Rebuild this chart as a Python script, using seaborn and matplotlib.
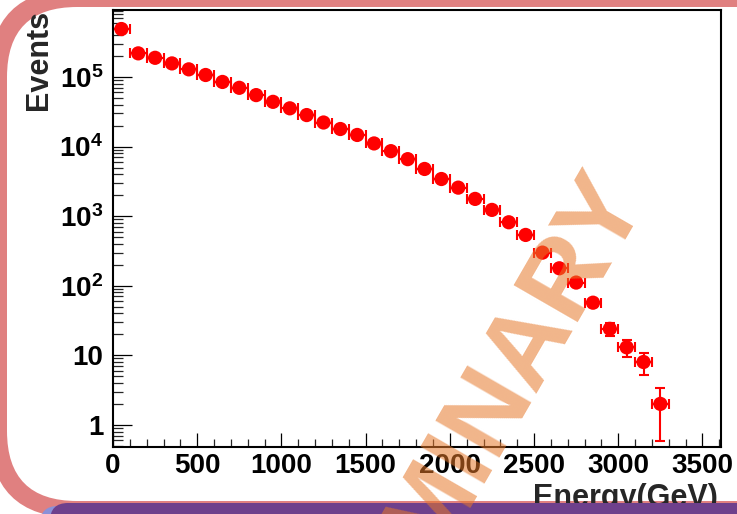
import numpy as np
import pandas as pd
import matplotlib
matplotlib.use("Agg")
import matplotlib.pyplot as plt
import seaborn as sns
from matplotlib.patches import FancyBboxPatch
from matplotlib.ticker import (FixedLocator, FixedFormatter, LogLocator,
                               MultipleLocator, NullFormatter)

# ---------------- data ----------------
energy_gev = [50, 150, 250, 350, 450, 550, 650, 750, 850, 950, 1050, 1150,
              1250, 1350, 1450, 1550, 1650, 1750, 1850, 1950, 2050, 2150,
              2250, 2350, 2450, 2550, 2650, 2750, 2850, 2950, 3050, 3150, 3250]
events = [490000, 219000, 189000, 157000, 129000, 107000, 85000, 70000,
          55000, 44000, 35500, 28400, 22200, 17900, 14700, 11100, 8600,
          6600, 4770, 3420, 2570, 1770, 1230, 817, 537, 299, 178, 111,
          57, 24, 13, 8, 2]
events_err = [700, 468, 435, 396, 359, 327, 292, 265, 235, 210, 188, 169,
              149, 134, 121, 105, 93, 81, 69, 58, 51, 42, 35, 29, 23, 17,
              13, 10.5, 7.5, 4.9, 3.6, 2.8, 1.41]
bin_half_width = 50

x_ticks = [0, 500, 1000, 1500, 2000, 2500, 3000, 3500]
x_tick_labels = ["0", "500", "1000", "1500", "2000", "2500", "3000", "3500"]
y_ticks = [1, 10, 100, 1000, 10000, 100000]
y_tick_labels = ["1", "10", r"$10^{2}$", r"$10^{3}$", r"$10^{4}$", r"$10^{5}$"]
x_label = "Energy(GeV)"
y_label = "Events"
watermark = "PRELIMINARY"

# ---------------- style ----------------
sns.set_theme(style="ticks")
plt.rcParams["font.family"] = ["Liberation Sans", "DejaVu Sans"]
plt.rcParams.update({
    "mathtext.fontset": "custom",
    "mathtext.rm": "Liberation Sans:bold",
    "mathtext.it": "Liberation Sans:bold",
    "mathtext.bf": "Liberation Sans:bold",
    "mathtext.default": "bf",
})

W, H = 737, 514
fig = plt.figure(figsize=(W / 100, H / 100), dpi=100)
fig.patch.set_facecolor("white")

# background slide frame (pixel coordinates, y downwards)
bg = fig.add_axes([0, 0, 1, 1], zorder=-1)
bg.set_xlim(0, W)
bg.set_ylim(H, 0)
bg.axis("off")
# outer pink rounded rectangle, then inner white rounded rectangle
bg.add_patch(FancyBboxPatch((-11, -11), 1000, 529,
                            boxstyle="round,pad=0,rounding_size=88",
                            fc="#E08080", ec="none"))
bg.add_patch(FancyBboxPatch((7, 7), 1000, 494,
                            boxstyle="round,pad=0,rounding_size=70",
                            fc="white", ec="none"))

# main plot
ax = fig.add_axes([113 / W, 1 - 447 / H, 608 / W, 437 / H], zorder=1)
ax.set_facecolor("white")
df = pd.DataFrame({"energy": energy_gev, "events": events, "err": events_err})

ax.errorbar(df["energy"], df["events"], xerr=bin_half_width, yerr=df["err"],
            fmt="none", ecolor="#FF0000", elinewidth=1.5, capsize=3.6,
            capthick=1.5, zorder=2)
sns.scatterplot(data=df, x="energy", y="events", ax=ax, color="#FF0000",
                s=105, edgecolor="none", linewidth=0, marker="o", zorder=3)

ax.set_yscale("log")
ax.set_xlim(0, 3610)
ax.set_ylim(0.48, 9.2e5)

ax.xaxis.set_major_locator(FixedLocator(x_ticks))
ax.xaxis.set_major_formatter(FixedFormatter(x_tick_labels))
ax.xaxis.set_minor_locator(MultipleLocator(100))
ax.yaxis.set_major_locator(FixedLocator(y_ticks))
ax.yaxis.set_major_formatter(FixedFormatter(y_tick_labels))
ax.yaxis.set_minor_locator(LogLocator(base=10, subs=np.arange(2, 10), numticks=20))
ax.yaxis.set_minor_formatter(NullFormatter())

ax.tick_params(axis="x", which="major", direction="in", length=10, width=0.9,
               labelsize=20, pad=4, top=False, colors="black")
ax.tick_params(axis="x", which="minor", direction="in", length=5.8, width=0.9,
               top=False)
ax.tick_params(axis="y", which="major", direction="in", length=13.7, width=0.9,
               labelsize=20, pad=7, right=False, colors="black")
ax.tick_params(axis="y", which="minor", direction="in", length=7.2, width=0.9,
               right=False)
for lab in ax.get_xticklabels() + ax.get_yticklabels():
    lab.set_fontweight("bold")

for sp in ax.spines.values():
    sp.set_visible(True)
    sp.set_linewidth(1.5)
    sp.set_color("black")

ax.set_xlabel(x_label, fontsize=22, fontweight="bold", loc="right")
ax.set_ylabel(y_label, fontsize=22, fontweight="bold", loc="top")
ax.xaxis.set_label_coords((718 - 113) / 608, (447 - 483) / 437)
ax.yaxis.set_label_coords((54 - 113) / 608, 1.0)

# overlay: bottom band and watermark
ov = fig.add_axes([0, 0, 1, 1], zorder=5)
ov.set_xlim(0, W)
ov.set_ylim(H, 0)
ov.axis("off")
ov.patch.set_alpha(0)
ov.add_patch(FancyBboxPatch((40, 506), 800, 40,
                            boxstyle="round,pad=0,rounding_size=18",
                            fc="#8A90D8", ec="none"))
ov.add_patch(FancyBboxPatch((50, 503), 800, 40,
                            boxstyle="round,pad=0,rounding_size=18",
                            fc="#6E408C", ec="none"))
ov.text(459, 516, watermark, rotation=60, rotation_mode="anchor",
        ha="center", va="baseline", fontsize=78, fontweight="bold",
        color="#E6782A", alpha=0.55)

fig.savefig("out.png", dpi=100)
